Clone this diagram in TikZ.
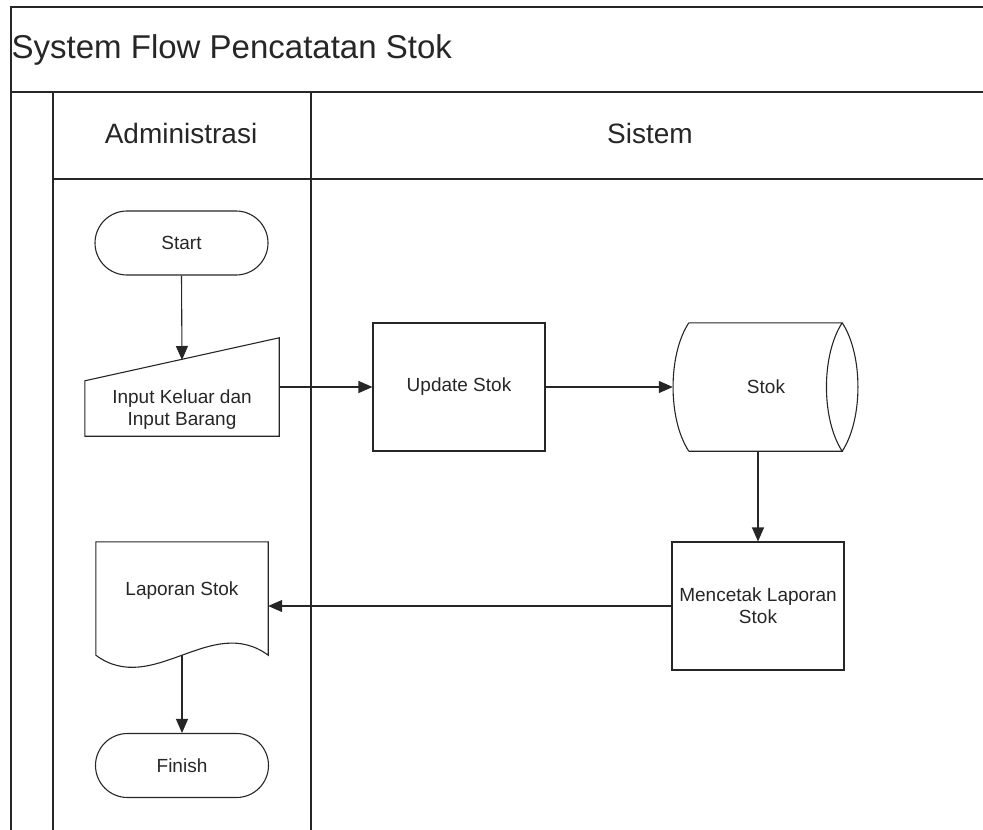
\documentclass[tikz,border=0pt]{standalone}
\usepackage{fontspec}
\setmainfont{Liberation Sans}
\usetikzlibrary{arrows.meta,shapes.misc,calc}

\begin{document}
\begin{tikzpicture}[x=1pt,y=-1pt,
  frame/.style={line width=1.5pt, draw=black!85},
  lbl/.style={font=\fontsize{19}{22}\selectfont, text=black!85, align=center, inner sep=0pt},
  hdr/.style={font=\fontsize{28}{32}\selectfont, text=black!85, inner sep=0pt, anchor=base},
  shp/.style={draw=black!85, line width=1.1pt},
  term/.style={rounded rectangle, shp, lbl, minimum width=173pt, minimum height=64pt},
  proc/.style={rectangle, shp, lbl, minimum width=172pt, minimum height=128pt},
  flow/.style={-{Triangle[length=14pt,width=12pt]}, line width=1.1pt, draw=black!85}
]
\useasboundingbox (0,0) rectangle (983,830);

% swimlane frame
\begin{scope}
  \clip (0,0) rectangle (983,830);
  \draw[frame] (11,7) rectangle (983.5,900);
  \draw[frame] (11,92) -- (990,92);
  \draw[frame] (53,92) -- (53,900);
  \draw[frame] (53,179) -- (990,179);
  \draw[frame] (311,92) -- (311,900);
\end{scope}

% title and lane headers
\node[anchor=base west, inner sep=0pt, font=\fontsize{33}{40}\selectfont, text=black!85]
  (title) at (11.5,58) {System Flow Pencatatan Stok};
\node[hdr] (adm) at (181,143) {Administrasi};
\node[hdr] (sis) at (650,143) {Sistem};

% Administrasi lane
\node[term] (start) at (181.5,243) {Start};

\node[lbl, minimum width=194pt, minimum height=52pt] (inp) at (182,410)
  {Input Keluar dan\\Input Barang};
\draw[shp] (inp.south west) -- ($(inp.north west)+(0,-3)$)
  -- ($(inp.north east)+(0,-46)$) -- (inp.south east) -- cycle;
\coordinate (inpin) at (182,360);

\node[lbl, minimum width=172pt, minimum height=98pt] (lap) at (182,591) {Laporan Stok};
\draw[shp] (lap.south west) -- (lap.north west) -- (lap.north east)
  -- ($(lap.south east)+(0,15)$)
  .. controls ($(lap.south east)+(-57,-27)$) and ($(lap.south west)+(57,57)$)
  .. ($(lap.south west)+(0,15)$) -- cycle;
\coordinate (lapout) at ($(lap.south)+(0,15)$);

\node[term] (fin) at (182,765.5) {Finish};

% Sistem lane
\node[proc] (upd) at (459,387) {Update Stok};

\node[lbl, minimum width=154pt, minimum height=128pt] (stok) at (766,387) {Stok};
\draw[shp] (stok.north west) -- (stok.north east)
           (stok.south west) -- (stok.south east)
           (stok.north west) .. controls ($(stok.north west)+(-21,32)$)
              and ($(stok.south west)+(-21,-32)$) .. (stok.south west)
           ($(stok.north east)+(-1,0)$) .. controls ($(stok.north east)+(-22,32)$)
              and ($(stok.south east)+(-22,-32)$) .. ($(stok.south east)+(-1,0)$)
           ($(stok.north east)+(-1,0)$) .. controls ($(stok.north east)+(20,32)$)
              and ($(stok.south east)+(20,-32)$) .. ($(stok.south east)+(-1,0)$);

\node[proc] (mc) at (758,606) {Mencetak Laporan\\Stok};

% flows
\draw[flow] (start.south) -- (inpin);
\draw[flow] (upd.west -| inp.east) -- (upd.west);
\draw[flow] (upd.east) -- ([xshift=-16pt]stok.west);
\draw[flow] (stok.south -| mc.north) -- (mc.north);
\draw[flow] (mc.west) -- (mc.west -| lap.east);
\draw[flow] (lapout) -- (fin.north);
\end{tikzpicture}
\end{document}
